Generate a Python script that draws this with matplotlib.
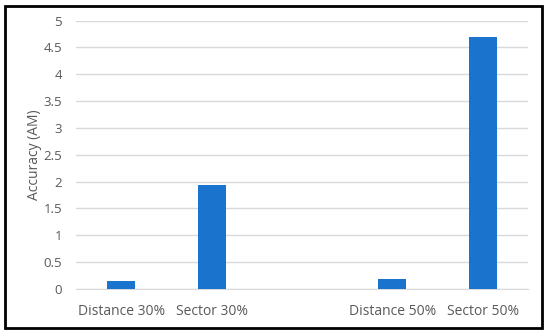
import matplotlib.pyplot as plt
import matplotlib.patches as mpatches
import numpy as np

categories = ['Distance 30%', 'Sector 30%', '', 'Distance 50%', 'Sector 50%']
values = [0.15, 1.93, 0, 0.19, 4.69]
yticks = [0, 0.5, 1, 1.5, 2, 2.5, 3, 3.5, 4, 4.5, 5]
ytick_labels = ['0', '0.5', '1', '1.5', '2', '2.5', '3', '3.5', '4', '4.5', '5']

plt.rcParams['font.family'] = ['Open Sans', 'DejaVu Sans']
grey = '#595959'

fig = plt.figure(figsize=(5.5, 3.36), dpi=100)
W, H = 550, 336
ax = fig.add_axes([76 / W, 1 - 289 / H, (528 - 76) / W, (289 - 20.5) / H])

x = np.arange(len(categories))
ax.bar(x, values, width=0.31, color='#1a73cc', zorder=3)

ax.set_xlim(-0.5, len(categories) - 0.5)
ax.set_ylim(0, 5)
ax.set_yticks(yticks)
ax.set_yticklabels(ytick_labels, color=grey, fontsize=9.5)
ax.set_xticks(x)
ax.set_xticklabels(categories, color=grey, fontsize=10)
ax.tick_params(axis='both', length=0)
ax.tick_params(axis='y', pad=10)
ax.tick_params(axis='x', pad=11)
ax.grid(axis='y', color='#d9d9d9', linewidth=1, zorder=0)
for s in ['top', 'right', 'left']:
    ax.spines[s].set_visible(False)
ax.spines['bottom'].set_color('#d9d9d9')
ax.set_ylabel('Accuracy (AM)', color=grey, fontsize=10, labelpad=1)

fig.patches.append(mpatches.Rectangle((5 / W, 1 - 328 / H), (542 - 5) / W, (328 - 5.5) / H,
                                      transform=fig.transFigure, fill=False,
                                      edgecolor='black', linewidth=2))

fig.savefig('out.png', dpi=100)
